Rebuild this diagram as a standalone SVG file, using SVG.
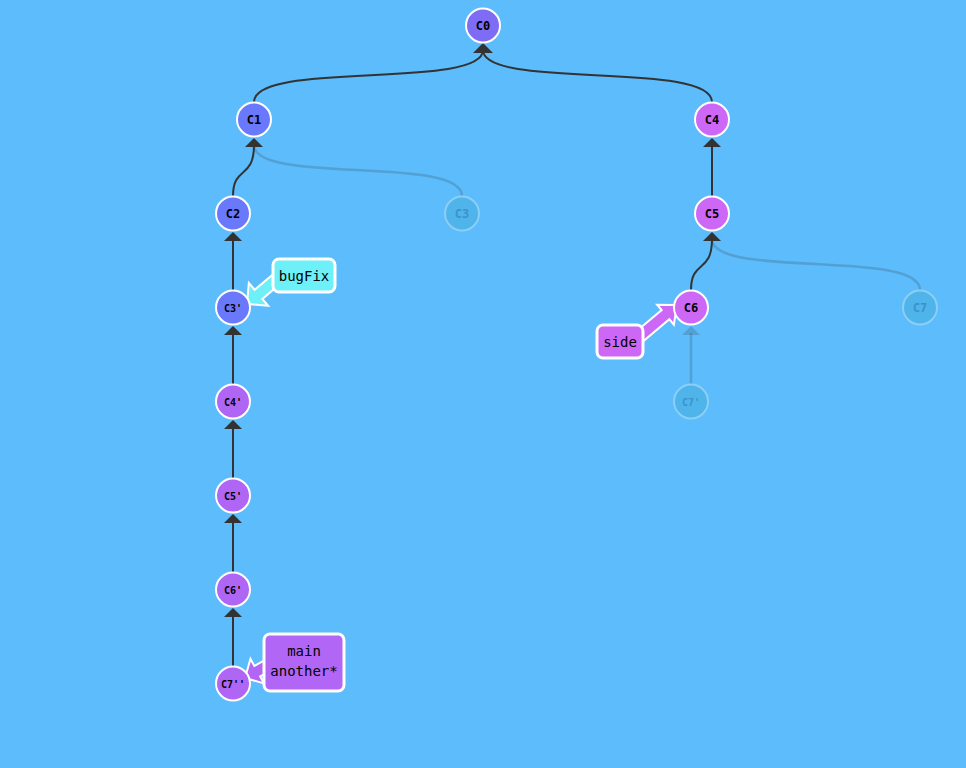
<svg xmlns="http://www.w3.org/2000/svg" width="966" height="768" viewBox="0 0 966 768">
<defs>
<style>
.edge{fill:none;stroke:#333;stroke-width:2}
.ghost{fill:none;stroke:#333;stroke-opacity:0.2;stroke-width:2.5}
.head{fill:#333}
.ghead{fill:#333;fill-opacity:0.2}
.node circle{stroke:#fff;stroke-width:2}
.node text{font-family:"DejaVu Sans Mono","Liberation Mono",monospace;font-weight:bold;font-size:12px;text-anchor:middle;dominant-baseline:central;fill:#000}
.node text.sm{font-size:10px}
.gnode circle{fill:#4fb4ea;stroke:#8ccff6;stroke-width:2}
.gnode text{fill:#3a92cc}
.lbl rect{stroke:#fff;stroke-width:3}
.lbl polygon{stroke:#fff;stroke-width:2;stroke-linejoin:miter}
.lbl text{font-family:"DejaVu Sans Mono","Liberation Mono",monospace;font-size:14px;text-anchor:middle;dominant-baseline:central;fill:#000}
</style>
</defs>
<rect width="966" height="768" fill="#5cbcfc"/>
<g id="connectors">
<path class="edge" d="M254,102 C254,60 483,90 483,50"/>
<path class="edge" d="M712,102 C712,60 483,90 483,50"/>
<polygon class="head" points="483,43 473,53 493,53"/>
<path class="ghost" d="M462,196 C462,155 254,185 254,145"/>
<path class="edge" d="M233,196 C233,165 254,180 254,145"/>
<polygon class="head" points="254,138 245,147 263,147"/>
<path class="edge" d="M712,196 L712,145"/>
<polygon class="head" points="712,138 703,147 721,147"/>
<path class="ghost" d="M920,290 C920,249 712,279 712,239"/>
<path class="edge" d="M691,290 C691,259 712,274 712,239"/>
<polygon class="head" points="712,232 703,241 721,241"/>
<path class="ghost" d="M691,384 L691,333"/>
<polygon class="ghead" points="691,326 682,335 700,335"/>
<path class="edge" d="M233,290 L233,239"/>
<polygon class="head" points="233,232 224,241 242,241"/>
<path class="edge" d="M233,384 L233,333"/>
<polygon class="head" points="233,326 224,335 242,335"/>
<path class="edge" d="M233,478 L233,427"/>
<polygon class="head" points="233,420 224,429 242,429"/>
<path class="edge" d="M233,572 L233,521"/>
<polygon class="head" points="233,514 224,523 242,523"/>
<path class="edge" d="M233,666 L233,615"/>
<polygon class="head" points="233,608 224,617 242,617"/>
</g>
<g id="C0" class="node"><circle cx="483" cy="25.5" r="17" fill="#7f6cf5"/><text x="483" y="26">C0</text></g>
<g id="C1" class="node"><circle cx="254" cy="119.5" r="17" fill="#6a78fb"/><text x="254" y="120">C1</text></g>
<g id="C2" class="node"><circle cx="233" cy="213.5" r="17" fill="#6a78fb"/><text x="233" y="214">C2</text></g>
<g id="C3" class="node gnode"><circle cx="462" cy="213.5" r="17"/><text x="462" y="214">C3</text></g>
<g id="C4" class="node"><circle cx="712" cy="119.5" r="17" fill="#cd67f5"/><text x="712" y="120">C4</text></g>
<g id="C5" class="node"><circle cx="712" cy="213.5" r="17" fill="#cd67f5"/><text x="712" y="214">C5</text></g>
<g id="C7" class="node gnode"><circle cx="920" cy="307.5" r="17"/><text x="920" y="308">C7</text></g>
<g id="C7p" class="node gnode"><circle cx="691" cy="401.5" r="17"/><text class="sm" x="691" y="402">C7'</text></g>
<g id="lbl-bugFix" class="lbl">
<polygon transform="translate(247,304) rotate(140)" points="0,0 -15,-15 -15,-6 -40,-6 -40,6 -15,6 -15,15" fill="#6ef0f8"/>
<rect x="273" y="259" width="62" height="33" rx="6" fill="#6ef0f8"/>
<text x="304" y="275.5">bugFix</text>
</g>
<g id="lbl-side" class="lbl">
<polygon transform="translate(677,305) rotate(-40)" points="0,0 -15,-13 -15,-6 -50,-6 -50,6 -15,6 -15,13" fill="#cd67f5"/>
<rect x="597" y="325" width="46" height="33" rx="6" fill="#cd67f5"/>
<text x="620" y="341.5">side</text>
</g>
<g id="lbl-main" class="lbl">
<polygon transform="translate(245,678) rotate(151)" points="0,0 -14,-14 -14,-6 -40,-6 -40,6 -14,6 -14,14" fill="#b266f5"/>
<rect x="264" y="634" width="80" height="57" rx="6" fill="#b266f5"/>
<text x="304" y="651">main</text>
<text x="304" y="671">another*</text>
</g>
<g id="C6" class="node"><circle cx="691" cy="307.5" r="17" fill="#cd67f5"/><text x="691" y="308">C6</text></g>
<g id="C3pp" class="node"><circle cx="233" cy="307.5" r="17" fill="#6a78fb"/><text class="sm" x="233" y="308">C3'</text></g>
<g id="C4pp" class="node"><circle cx="233" cy="401.5" r="17" fill="#b066f4"/><text class="sm" x="233" y="402">C4'</text></g>
<g id="C5pp" class="node"><circle cx="233" cy="495.5" r="17" fill="#b066f4"/><text class="sm" x="233" y="496">C5'</text></g>
<g id="C6pp" class="node"><circle cx="233" cy="589.5" r="17" fill="#b066f4"/><text class="sm" x="233" y="590">C6'</text></g>
<g id="C7pp" class="node"><circle cx="233" cy="683.5" r="17" fill="#b066f4"/><text class="sm" x="233" y="684">C7''</text></g>
</svg>
